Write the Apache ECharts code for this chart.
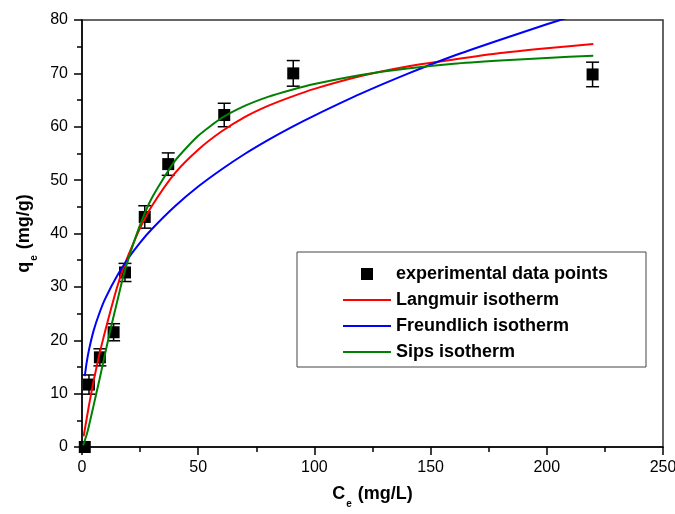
<!DOCTYPE html>
<html>
<head>
<meta charset="utf-8">
<script src="https://cdn.jsdelivr.net/npm/echarts@6/dist/echarts.min.js"></script>
<style>
html,body{margin:0;padding:0;background:#fff;}
#chart{width:675px;height:514px;}
</style>
</head>
<body>
<div id="chart"></div>
<script>
// Experimental data
var ceExp = [1.2, 3.0, 7.7, 13.6, 18.5, 27.0, 37.1, 61.2, 90.9, 219.7];
var qeExp = [0, 11.7, 16.8, 21.5, 32.7, 43.1, 53.0, 62.2, 70.0, 69.8];
var qeErr = [0, 1.8, 1.6, 1.6, 1.7, 2.1, 2.1, 2.2, 2.4, 2.3];

// Langmuir fitted curve
var langC = [0.7, 2, 3, 5, 7.5, 10, 12.5, 15, 17.5, 20, 25, 30, 40, 50, 60, 70, 80, 90, 100, 120, 140, 160, 180, 200, 220];
var langQ = [2.0, 5.3, 7.8, 12.4, 17.4, 21.8, 25.9, 29.8, 33.2, 36.0, 41.0, 45.1, 51.3, 55.7, 59.1, 61.8, 63.9, 65.6, 67.1, 69.5, 71.3, 72.6, 73.8, 74.7, 75.5];

// Freundlich fitted curve
var freuC = [1.2, 2, 3, 5, 7.5, 10, 15, 20, 25, 30, 40, 50, 60, 70, 80, 90, 100, 120, 140, 160, 180, 200, 210];
var freuQ = [13.3, 15.8, 18.2, 21.8, 25.1, 27.8, 32.0, 35.4, 38.3, 40.8, 45.1, 48.8, 52.0, 54.9, 57.5, 59.9, 62.1, 66.2, 69.9, 73.3, 76.3, 79.2, 80.6];

// Sips fitted curve
var sipsC = [0.5, 2, 3, 5, 7.5, 10, 12.5, 15, 17.5, 20, 25, 30, 40, 50, 60, 70, 80, 90, 100, 120, 140, 160, 180, 200, 220];
var sipsQ = [0.3, 2.3, 4.0, 7.8, 12.6, 17.6, 22.5, 27.0, 31.5, 35.3, 41.6, 46.6, 53.6, 58.3, 61.6, 63.9, 65.6, 66.9, 68.0, 69.7, 70.9, 71.8, 72.4, 72.9, 73.3];

var seriesNames = ['experimental data points', 'Langmuir isotherm', 'Freundlich isotherm', 'Sips isotherm'];

function pairs(xs, ys) { return xs.map(function (x, i) { return [x, ys[i]]; }); }

var FONT = "'Liberation Sans', Arial, sans-serif";
var chart = echarts.init(document.getElementById('chart'), null, {renderer: 'canvas'});

var titleRich = {
  b: {fontFamily: FONT, fontSize: 18, fontWeight: 'bold', color: '#000', lineHeight: 20, verticalAlign: 'top'},
  s: {fontFamily: FONT, fontSize: 10, fontWeight: 'bold', color: '#000', lineHeight: 10, padding: [14, 1, 0, 1], verticalAlign: 'top'}
};
var lineIcon = 'path://M0,0L48,0L48,2L0,2Z';

var option = {
  animation: false,
  backgroundColor: '#fff',
  grid: {left: 82, right: 12, top: 20, bottom: 67, show: true, borderColor: '#333', borderWidth: 1.5,
         backgroundColor: 'transparent', outerBoundsMode: 'none', containLabel: false},
  xAxis: {
    type: 'value', min: 0, max: 250, interval: 50,
    name: '{b|C}{s|e}{b| (mg/L)}', nameLocation: 'middle', nameGap: 38,
    nameTextStyle: {rich: titleRich},
    axisLine: {lineStyle: {color: '#000', width: 1.5}},
    axisTick: {length: 8, lineStyle: {color: '#000', width: 1.5}},
    minorTick: {show: true, splitNumber: 2, length: 5, lineStyle: {color: '#000', width: 1.5}},
    splitLine: {show: false},
    axisLabel: {fontFamily: FONT, fontSize: 16, color: '#000', margin: 13}
  },
  yAxis: {
    type: 'value', min: 0, max: 80, interval: 10,
    name: '{b|q}{s|e}{b| (mg/g)}', nameLocation: 'middle', nameGap: 44,
    nameTextStyle: {rich: titleRich},
    axisLine: {lineStyle: {color: '#000', width: 1.5}},
    axisTick: {length: 8, lineStyle: {color: '#000', width: 1.5}},
    minorTick: {show: true, splitNumber: 2, length: 5, lineStyle: {color: '#000', width: 1.5}},
    splitLine: {show: false},
    axisLabel: {fontFamily: FONT, fontSize: 16, color: '#000', margin: 14}
  },
  legend: {
    orient: 'vertical', left: 297, top: 252,
    padding: [13, 0, 6, 46],
    borderColor: '#444', borderWidth: 1, backgroundColor: '#fff',
    itemWidth: 48, itemHeight: 12, itemGap: 8,
    textStyle: {fontFamily: FONT, fontSize: 18, fontWeight: 'bold', color: '#000', lineHeight: 14, width: 250},
    data: [
      {name: seriesNames[0], icon: 'path://M0,0L10,0L10,10L0,10Z'},
      {name: seriesNames[1], icon: lineIcon},
      {name: seriesNames[2], icon: lineIcon},
      {name: seriesNames[3], icon: lineIcon}
    ]
  },
  series: [
    {
      name: seriesNames[0], type: 'scatter', symbol: 'rect', symbolSize: 12, z: 2,
      itemStyle: {color: '#000', opacity: 1},
      data: pairs(ceExp, qeExp)
    },
    {
      name: 'errors', type: 'custom', z: 3,
      data: ceExp.map(function (c, i) { return [c, qeExp[i], qeErr[i]]; }),
      renderItem: function (params, api) {
        var x = api.value(0), y = api.value(1), e = api.value(2);
        if (!e) return null;
        var top = api.coord([x, y + e]);
        var bot = api.coord([x, y - e]);
        var hw = 6.5;
        var st = {stroke: '#000', lineWidth: 1.5};
        return {type: 'group', children: [
          {type: 'line', shape: {x1: top[0], y1: top[1], x2: bot[0], y2: bot[1]}, style: st},
          {type: 'line', shape: {x1: top[0] - hw, y1: top[1], x2: top[0] + hw, y2: top[1]}, style: st},
          {type: 'line', shape: {x1: bot[0] - hw, y1: bot[1], x2: bot[0] + hw, y2: bot[1]}, style: st}
        ]};
      }
    },
    {
      name: seriesNames[1], type: 'line', symbol: 'none', smooth: 0.2, z: 4,
      lineStyle: {color: '#ff0000', width: 2}, itemStyle: {color: '#ff0000'},
      data: pairs(langC, langQ)
    },
    {
      name: seriesNames[2], type: 'line', symbol: 'none', smooth: 0.2, z: 4,
      lineStyle: {color: '#0000ff', width: 2}, itemStyle: {color: '#0000ff'},
      data: pairs(freuC, freuQ)
    },
    {
      name: seriesNames[3], type: 'line', symbol: 'none', smooth: 0.2, z: 4,
      lineStyle: {color: '#008000', width: 2}, itemStyle: {color: '#008000'},
      data: pairs(sipsC, sipsQ)
    }
  ]
};
chart.setOption(option);
</script>
</body>
</html>
